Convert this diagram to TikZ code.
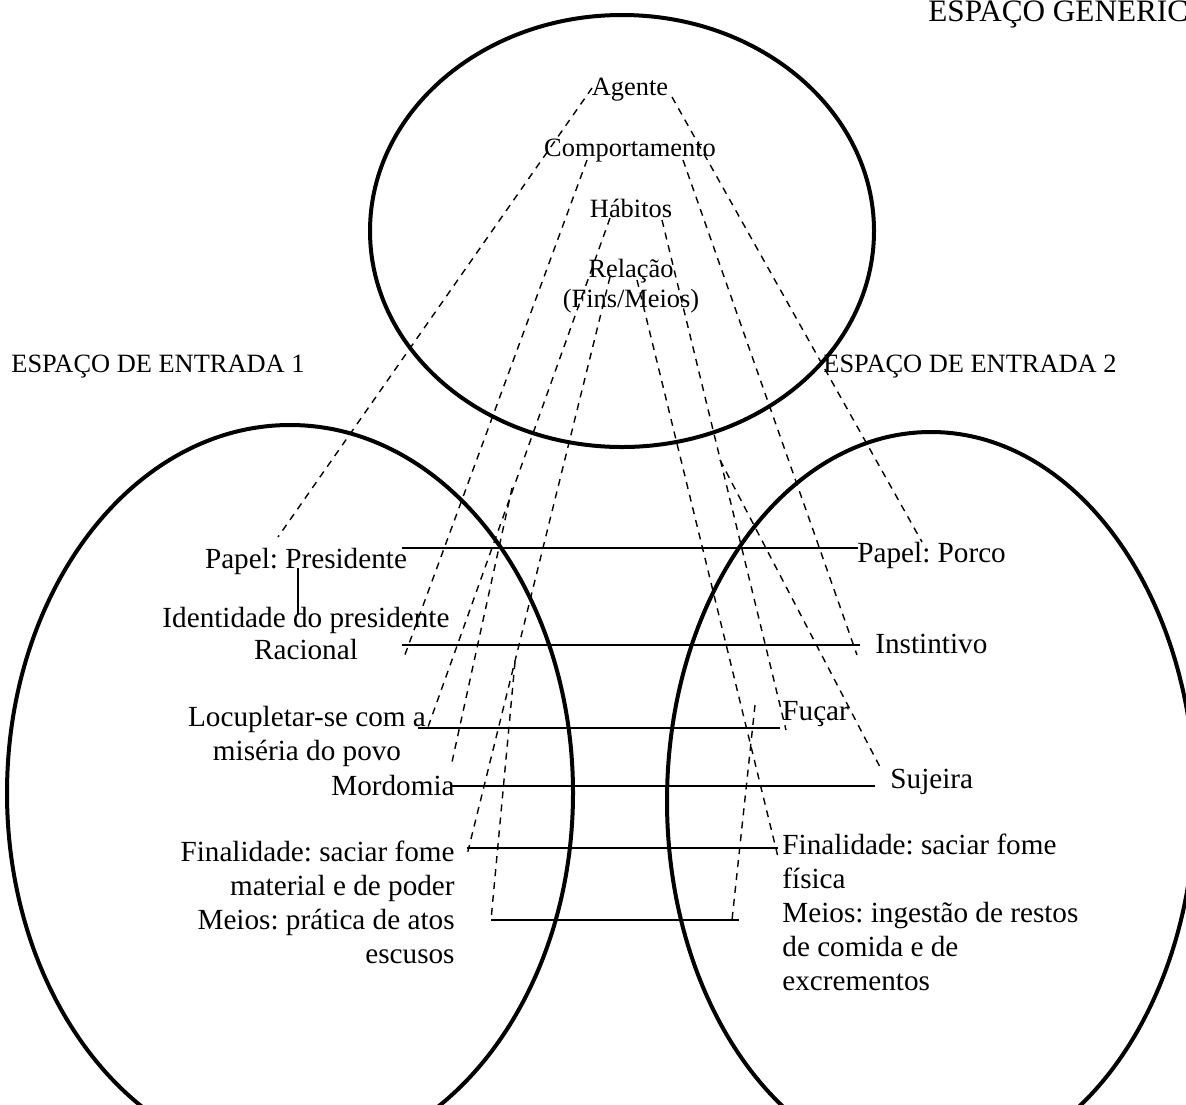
\documentclass[tikz,border=0pt]{standalone}
\usepackage{fontspec}
\setmainfont{Liberation Serif}
\frenchspacing
\begin{document}
\begin{tikzpicture}[x=0.5pt,y=-0.5pt,
    espaco/.style={line width=2pt},
    head/.style={font=\fontsize{13.2}{15}\selectfont,inner sep=0pt},
    item/.style={font=\fontsize{14.6}{16.9}\selectfont,inner sep=0pt},
    proj/.style={line width=0.7pt,dash pattern=on 3.5pt off 3pt},
    liga/.style={line width=0.9pt}]
  \useasboundingbox (0,0) rectangle (1186,1104);
  \clip (0,0) rectangle (1186,1104);
  \draw[espaco] (622,231) ellipse [x radius=252,y radius=216];
  \draw[espaco] (290,793) ellipse [x radius=283,y radius=368];
  \draw[espaco] (931,801) ellipse [x radius=264,y radius=369];
  \node[head,font=\fontsize{15.6}{18}\selectfont,anchor=base west] (gen) at (928,21) {ESPAÇO GENÉRICO};
  \node[head,anchor=base west] (ent1) at (11,372) {ESPAÇO DE ENTRADA 1};
  \node[head,anchor=base west] (ent2) at (823,372) {ESPAÇO DE ENTRADA 2};
  \node[head,anchor=base] (agente) at (630,95) {Agente};
  \node[head,anchor=base] (comp) at (630,156) {Comportamento};
  \node[head,anchor=base] (hab) at (631,217) {Hábitos};
  \node[head,anchor=base,align=center] (rel) at (631,307) {Relação\\(Fins/Meios)};
  \node[item,anchor=base] (pres) at (306,568) {Papel: Presidente};
  \node[item,anchor=base] (ident) at (306,627) {Identidade do presidente};
  \node[item,anchor=base] (rac) at (306,659) {Racional};
  \node[item,anchor=base,align=center] (locup) at (307,760) {Locupletar-se com a\\miséria do povo};
  \node[item,anchor=base east] (mord) at (455,795) {Mordomia};
  \node[item,anchor=base east,align=right] (finL) at (455,963)
    {Finalidade: saciar fome\\material e de poder\\Meios: prática de atos\\escusos};
  \node[item,anchor=base west] (porco) at (857,562) {Papel: Porco};
  \node[item,anchor=base west] (inst) at (875,653) {Instintivo};
  \node[item,anchor=base west] (fucar) at (782,720) {Fuçar};
  \node[item,anchor=base west] (suj) at (890,788) {Sujeira};
  \node[item,anchor=base west,align=left] (finR) at (782,990)
    {Finalidade: saciar fome\\física\\Meios: ingestão de restos\\de comida e de\\excrementos};
  % pontas das ligacoes
  \coordinate (ag1) at (592,88);  \coordinate (ag2) at (672,97);
  \coordinate (co1) at (587,160); \coordinate (co2) at (683,160);
  \coordinate (ha1) at (610,218); \coordinate (ha2) at (662,220);
  \coordinate (re1) at (610,277); \coordinate (re2) at (637,280);
  \coordinate (ha3) at (512,488); \coordinate (ha4) at (720,460);
  \coordinate (re3) at (515,662); \coordinate (re4) at (755,705);
  \coordinate (p1) at (278,537);  \coordinate (p2) at (922,542);
  \coordinate (r1) at (403,660);  \coordinate (r2) at (857,655);
  \coordinate (h1) at (428,727);  \coordinate (h2) at (786,730);
  \coordinate (h3) at (452,762);  \coordinate (h4) at (880,767);
  \coordinate (f1) at (467,855);  \coordinate (f2) at (778,857);
  \coordinate (m1) at (491,920);  \coordinate (m2) at (732,920);
  \draw[proj] (ag1) -- (p1) (ag2) -- (p2);
  \draw[proj] (co1) -- (r1) (co2) -- (r2);
  \draw[proj] (ha1) -- (h1) (ha2) -- (h2);
  \draw[proj] (ha3) -- (h3) (ha4) -- (h4);
  \draw[proj] (re1) -- (f1) (re2) -- (f2);
  \draw[proj] (re3) -- (m1) (re4) -- (m2);
  % ligacoes entre os espacos de entrada
  \coordinate (t1) at (298,568); \coordinate (t2) at (298,615);
  \draw[liga] (t1) -- (t2);
  \coordinate (a1) at (402,548); \coordinate (a2) at (858,548);
  \coordinate (b1) at (402,645); \coordinate (b2) at (860,645);
  \coordinate (c1) at (418,728); \coordinate (c2) at (780,728);
  \coordinate (d1) at (450,786); \coordinate (d2) at (875,786);
  \coordinate (e1) at (467,848); \coordinate (e2) at (778,848);
  \coordinate (g1) at (491,920); \coordinate (g2) at (739,920);
  \draw[liga] (a1) -- (a2) (b1) -- (b2) (c1) -- (c2);
  \draw[liga] (d1) -- (d2) (e1) -- (e2) (g1) -- (g2);
\end{tikzpicture}
\end{document}
